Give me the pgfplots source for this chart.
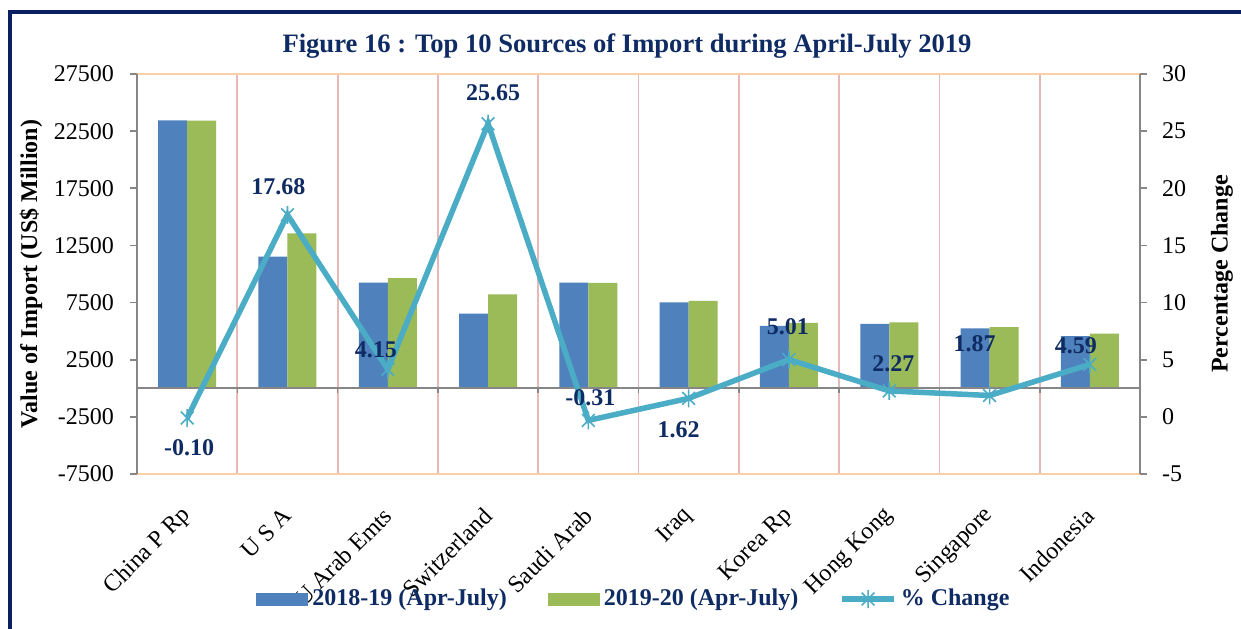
\documentclass[border=0pt]{standalone}
\usepackage{fontspec}
\setmainfont{Liberation Serif}
\usepackage{pgfplots}
\pgfplotsset{compat=1.18}
\usepackage{pgfplotstable}
\definecolor{navy}{HTML}{0F2B63}
\definecolor{framenavy}{HTML}{0A2060}
\definecolor{barblue}{HTML}{4F81BD}
\definecolor{bargreen}{HTML}{9BBB59}
\definecolor{aqua}{HTML}{4BACC6}
\definecolor{peach}{HTML}{F9CFA6}
\definecolor{pinkgrid}{HTML}{E6B9B8}
\definecolor{axgray}{HTML}{868686}
\newcommand\fs{\fontsize{12}{14.4}\selectfont}
\pgfdeclareplotmark{xstar}{%
  \pgfpathmoveto{\pgfqpointpolar{45}{\pgfplotmarksize}}\pgfpathlineto{\pgfqpointpolar{225}{\pgfplotmarksize}}%
  \pgfpathmoveto{\pgfqpointpolar{135}{\pgfplotmarksize}}\pgfpathlineto{\pgfqpointpolar{315}{\pgfplotmarksize}}%
  \pgfpathmoveto{\pgfqpoint{0pt}{\pgfplotmarksize}}\pgfpathlineto{\pgfqpoint{0pt}{-\pgfplotmarksize}}%
  \pgfusepathqstroke}
\pgfplotsset{
  my line legend/.style={legend image code/.code={%
    \draw[aqua, line width=2.75pt] (0pt,0pt) -- (26pt,0pt);
    \begin{scope}[shift={(13pt,0pt)}]\pgfsetlinewidth{0.8pt}\pgfsetstrokecolor{aqua}\pgfsetplotmarksize{4.5pt}\pgfuseplotmark{xstar}\end{scope}}},
  my blue legend/.style={legend image code/.code={\fill[barblue] (0pt,-3.25pt) rectangle (26pt,3.25pt);}},
  my green legend/.style={legend image code/.code={\fill[bargreen] (0pt,-3.25pt) rectangle (26pt,3.25pt);}},
}

\pgfplotstableread{
x v18 v19
0 23450 23430
1 11520 13557
2 9250 9634
3 6535 8211
4 9250 9221
5 7525 7647
6 5455 5728
7 5630 5758
8 5250 5348
9 4573 4783
}\bars

\pgfplotstableread{
x pc lab dx dy
0 -0.10 -0.10 1 -15
1 17.68 17.68 -4.5 14
2 4.15 4.15 -6 10
3 25.65 25.65 2.5 15.5
4 -0.31 -0.31 1 11.5
5 1.62 1.62 -5 -15.5
6 5.01 5.01 -0.5 16.5
7 2.27 2.27 2 13.5
8 1.87 1.87 -7.5 26
9 4.59 4.59 -7 9.5
}\pct

\begin{document}
\begin{tikzpicture}
\useasboundingbox (0,0) rectangle (620.5pt,314pt);
\fill[white] (0,0) rectangle (620.5pt,314pt);
\begin{axis}[
  at={(68.5pt,77pt)}, anchor=south west,
  scale only axis, width=501.5pt, height=200pt,
  xmin=-0.5, xmax=9.5, ymin=-7500, ymax=27500,
  ytick={-7500,-2500,...,27500},
  scaled y ticks=false,
  xtick={0,...,9},
  xticklabels={China P Rp, U S A, U Arab Emts, Switzerland, Saudi Arab, Iraq, Korea Rp, Hong Kong, Singapore, Indonesia},
  xticklabel style={font=\fs, xshift=2.5pt, yshift=-13pt, rotate=45, anchor=east},
  yticklabel style={font=\fs, xshift=-4.5pt},
  /pgf/number format/assume math mode=true,
  /pgf/number format/1000 sep={},
  x tick style={draw=none},
  y tick style={axgray, line width=0.8pt},
  ytick pos=left,
  tick align=outside, major tick length=3.5pt,
  separate axis lines,
  x axis line style={peach, line width=1pt},
  y axis line style={axgray, line width=1pt},
  minor xtick={0.5,1.5,...,8.5},
  xminorgrids,
  minor x grid style={pinkgrid, line width=0.9pt},
  minor tick length=0pt,
  ybar=0pt, bar width=14.5pt,
  ylabel={\fs\bfseries Value of Import (US\$ Million)},
  ylabel style={at={(axis description cs:-0.1057,0.5)}, anchor=center},
  legend columns=3,
  legend style={at={(0.4965,-0.3125)}, anchor=center, draw=none, fill=none,
    font=\fs\bfseries, text=navy,
    /tikz/every even column/.append style={column sep=18.5pt}},
]
\addplot[ybar, fill=barblue, draw=none, my blue legend]
  table[x=x,y=v18]{\bars};
\addlegendentry{2018-19 (Apr-July)}
\addplot[ybar, fill=bargreen, draw=none, my green legend]
  table[x=x,y=v19]{\bars};
\addlegendentry{2019-20 (Apr-July)}
\addlegendimage{my line legend}
\addlegendentry{\% Change}
\draw[axgray, line width=1pt] (axis cs:-0.5,0) -- (axis cs:9.5,0);
\pgfplotsinvokeforeach{0.5,1.5,2.5,3.5,4.5,5.5,6.5,7.5,8.5}{\draw[axgray, line width=0.8pt] (axis cs:#1,0) -- (axis cs:#1,-440);}
\end{axis}
\begin{axis}[
  at={(68.5pt,77pt)}, anchor=south west,
  scale only axis, width=501.5pt, height=200pt,
  xmin=-0.5, xmax=9.5, ymin=-5, ymax=30,
  ytick={-5,0,...,30},
  axis x line=none, axis y line*=right,
  y axis line style={axgray, line width=1pt},
  y tick style={axgray, line width=0.8pt},
  tick align=outside, major tick length=3.5pt,
  yticklabel style={font=\fs, xshift=4pt},
  /pgf/number format/assume math mode=true,
  ylabel={\fs\bfseries Percentage Change},
  ylabel style={at={(axis description cs:1.0818,0.5)}, anchor=center, rotate=0},
]
\addplot[aqua, line width=2.75pt, mark=xstar, mark size=4.5pt,
  mark options={line width=0.8pt, solid},
  nodes near coords, point meta=explicit symbolic,
  visualization depends on={\thisrow{dx}\as\ldx},
  visualization depends on={\thisrow{dy}\as\ldy},
  every node near coord/.append style={anchor=center, xshift=\ldx pt, yshift=\ldy pt, font=\fs\bfseries, text=navy}]
  table[x=x, y=pc, meta=lab]{\pct};
\end{axis}
\node[font=\fontsize{13.3}{16}\selectfont\bfseries, text=navy, anchor=base] at (313.5pt,287.5pt) {Figure 16 : Top 10 Sources of Import during April-July 2019};
\draw[framenavy, line width=2pt] (5pt,-2pt) -- (5pt,308pt) -- (625pt,308pt);
\end{tikzpicture}
\end{document}
